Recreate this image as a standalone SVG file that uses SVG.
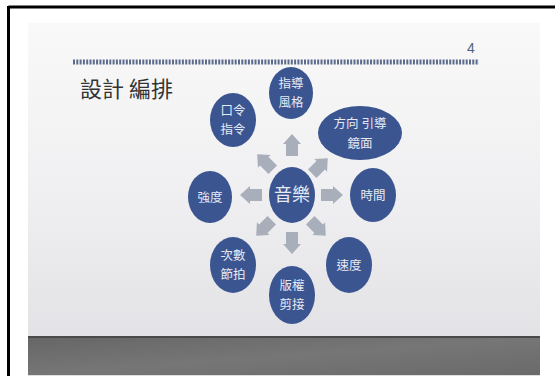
<svg xmlns="http://www.w3.org/2000/svg" width="555" height="376" viewBox="0 0 555 376">
<defs>
<linearGradient id="bg" x1="0" y1="0" x2="0" y2="1">
<stop offset="0" stop-color="#f9f9f9"/>
<stop offset="0.5" stop-color="#efeff1"/>
<stop offset="1" stop-color="#dfdfe3"/>
</linearGradient>
<linearGradient id="strip" x1="0" y1="0" x2="1" y2="1">
<stop offset="0" stop-color="#666666"/>
<stop offset="0.5" stop-color="#777676"/>
<stop offset="1" stop-color="#6a6a6a"/>
</linearGradient>
<path id="arr" d="M0,-11 L9,-1 L6,-1 L6,11 L-6,11 L-6,-1 L-9,-1 Z"/>
</defs>
<style>
.node{fill:#3b5591;}
.t{font-family:"Noto Sans CJK TC","Noto Sans CJK SC",sans-serif;fill:#e6eaf3;text-anchor:middle;font-size:12.5px;}
.big{font-size:18px;}
.arrow{fill:#a9aebb;}
</style>
<rect x="0" y="0" width="555" height="376" fill="#ffffff"/>
<rect x="28" y="23" width="512" height="353" fill="url(#bg)"/>
<rect x="28" y="337" width="512" height="38" fill="url(#strip)"/>
<rect x="28" y="336" width="512" height="2" fill="#4a4a4a"/>
<line x1="8.5" y1="7" x2="555" y2="7" stroke="#000" stroke-width="3"/>
<line x1="8.5" y1="6" x2="8.5" y2="376" stroke="#000" stroke-width="3"/>
<line x1="73" y1="62" x2="479" y2="62" stroke="#5b6b8c" stroke-width="5" stroke-dasharray="2 1.3"/>
<text x="471" y="53" font-family="'Liberation Sans',sans-serif" font-size="14" fill="#55607a" text-anchor="middle">4</text>
<text x="80" y="97" font-family="'Noto Sans CJK TC','Noto Sans CJK SC',sans-serif" font-size="22" fill="#333333">設計 編排</text>
<g id="connectors">
<use href="#arr" class="arrow" transform="translate(292,145)"/>
<use href="#arr" class="arrow" transform="translate(292,243) rotate(180)"/>
<use href="#arr" class="arrow" transform="translate(251,195) rotate(-90)"/>
<use href="#arr" class="arrow" transform="translate(332,195) rotate(90)"/>
<use href="#arr" class="arrow" transform="translate(265,162) rotate(-45)"/>
<use href="#arr" class="arrow" transform="translate(320,166) rotate(45)"/>
<use href="#arr" class="arrow" transform="translate(264,228) rotate(-135)"/>
<use href="#arr" class="arrow" transform="translate(318,228) rotate(135)"/>
</g>
<g id="n-music"><ellipse class="node" cx="292" cy="195" rx="23" ry="28"/><text class="t big" x="292" y="201">音樂</text></g>
<g id="n-style"><ellipse class="node" cx="291" cy="93" rx="22" ry="26"/><text class="t" x="291" y="88">指導</text><text class="t" x="291" y="106.5">風格</text></g>
<g id="n-cmd"><ellipse class="node" cx="233" cy="120" rx="23" ry="27"/><text class="t" x="233" y="115">口令</text><text class="t" x="233" y="133.5">指令</text></g>
<g id="n-dir"><ellipse class="node" cx="360" cy="133" rx="42" ry="27"/><text class="t" x="360" y="128" font-size="13.5">方向 引導</text><text class="t" x="360" y="148" font-size="13.5">鏡面</text></g>
<g id="n-strength"><ellipse class="node" cx="210" cy="197" rx="22" ry="26"/><text class="t" x="210" y="202">強度</text></g>
<g id="n-time"><ellipse class="node" cx="373" cy="195" rx="23" ry="27"/><text class="t" x="373" y="200">時間</text></g>
<g id="n-beat"><ellipse class="node" cx="233" cy="265" rx="23" ry="28"/><text class="t" x="233" y="260">次數</text><text class="t" x="233" y="278.5">節拍</text></g>
<g id="n-edit"><ellipse class="node" cx="292" cy="295" rx="23" ry="29"/><text class="t" x="292" y="290">版權</text><text class="t" x="292" y="308.5">剪接</text></g>
<g id="n-speed"><ellipse class="node" cx="349" cy="265" rx="23" ry="28"/><text class="t" x="349" y="270">速度</text></g>
</svg>
